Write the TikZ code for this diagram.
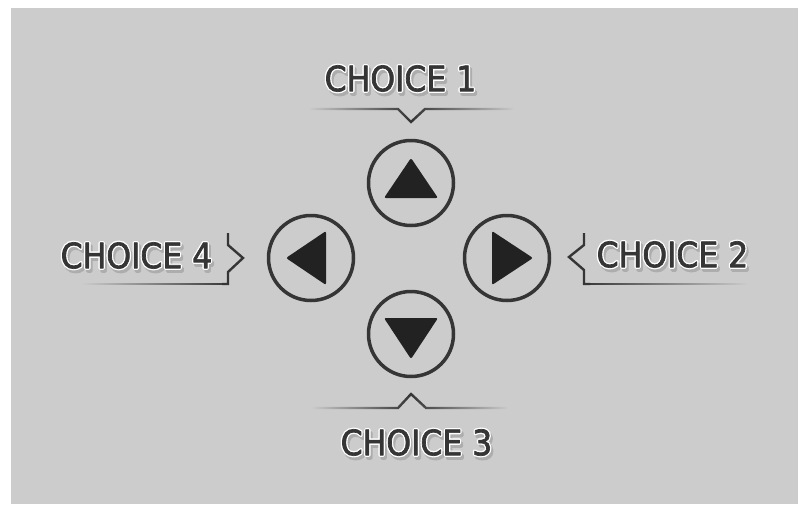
\documentclass[tikz,border=0pt]{standalone}
\usepackage{fontspec}
\newfontfamily\labfont{DejaVu Sans Condensed}
\usetikzlibrary{fadings}
\definecolor{bg}{HTML}{CCCCCC}
\definecolor{ink}{HTML}{353535}
\definecolor{tri}{HTML}{222222}
\definecolor{shA}{HTML}{ADADAD}
\tikzfading[name=fadeboth, left color=transparent!100, right color=transparent!100, middle color=transparent!0]
\tikzfading[name=fadeleft, left color=transparent!100, right color=transparent!0]
\tikzfading[name=faderight, left color=transparent!0, right color=transparent!100]
% text render mode switch (2 = fill and stroke)
\newcommand\txtmode[2]{\special{pdf:literal direct #1 Tr #2 w 1 j}}
% one shadow copy, one white halo copy (stroked), one dark copy
\newcommand\halotxt[1]{%
\rlap{\smash{\kern2pt\raisebox{-3pt}{\textcolor{shA}{\txtmode{2}{3.4}#1\txtmode{0}{1}}}}}%
\rlap{\smash{\textcolor{white}{\txtmode{2}{3.4}#1\txtmode{0}{1}}}}%
\textcolor{ink}{\txtmode{2}{0.7}#1\txtmode{0}{1}}}
\tikzset{
  btn/.style={circle, draw=ink, line width=3.5pt, minimum size=85pt, inner sep=0pt},
  arrowtri/.style={fill=tri, rounded corners=2pt},
  choicelab/.style={inner sep=0pt, font=\labfont\fontsize{35}{40}\selectfont},
  rule/.style={draw=ink, line width=2.4pt, line join=miter}
}
\begin{document}
\begin{tikzpicture}[x=1pt, y=-1pt]
\useasboundingbox (0,0) rectangle (798,504);
\fill[white] (0,0) rectangle (798,504);
\fill[bg] (11,8) rectangle (798,504);

% buttons
\node[btn] (up) at (411,183) {};
\node[btn] (left) at (311,258) {};
\node[btn] (right) at (507,258) {};
\node[btn] (down) at (411,334) {};

\fill[arrowtri] ([shift={(0,-25)}]up.center) -- ([shift={(27,15)}]up.center) -- ([shift={(-27,15)}]up.center) -- cycle;
\fill[arrowtri] ([shift={(-25,0)}]left.center) -- ([shift={(15,-27)}]left.center) -- ([shift={(15,27)}]left.center) -- cycle;
\fill[arrowtri] ([shift={(26,0)}]right.center) -- ([shift={(-15,27)}]right.center) -- ([shift={(-15,-27)}]right.center) -- cycle;
\fill[arrowtri] ([shift={(0,25)}]down.center) -- ([shift={(-27,-16)}]down.center) -- ([shift={(27,-16)}]down.center) -- cycle;

% labels
\node[choicelab] (c1) at (400.5,78.5) {\halotxt{CHOICE 1}};
\node[choicelab] (c2) at (672.5,254.5) {\halotxt{CHOICE 2}};
\node[choicelab] (c3) at (416.5,442.5) {\halotxt{CHOICE 3}};
\node[choicelab] (c4) at (136.5,255.5) {\halotxt{CHOICE 4}};

% pointer rules
\coordinate (t1) at (411,122);
\draw[rule, path fading=fadeboth] (310,109) -- (398,109) -- (t1) -- (425,109) -- (513,109);
\coordinate (t3) at (411,394);
\draw[rule, path fading=fadeboth] (313,408) -- (398,408) -- (t3) -- (426,408) -- (507,408);

\coordinate (t4) at (243,258);
\draw[rule] (228,233) -- (228,245) -- (t4) -- (228,272) -- (228,284) -- (222,284);
\draw[rule, path fading=fadeleft] (229.2,284) -- (83,284);

\coordinate (t2) at (569,257);
\draw[rule] (584,233) -- (584,245) -- (t2) -- (584,270) -- (584,284) -- (590,284);
\draw[rule, path fading=faderight] (582.8,284) -- (747,284);
\end{tikzpicture}
\end{document}
